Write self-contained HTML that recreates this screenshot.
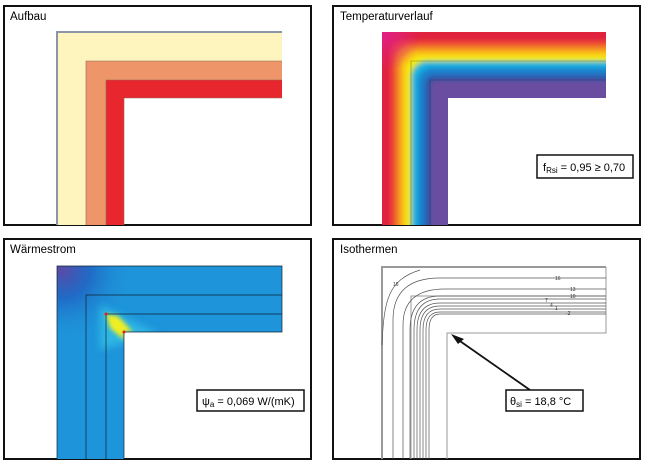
<!DOCTYPE html>
<html><head><style>
html,body{margin:0;padding:0;background:#fff;}
svg{display:block;}
text{font-family:"Liberation Sans",sans-serif;}
</style></head><body>
<svg width="646" height="467" viewBox="0 0 646 467" xmlns="http://www.w3.org/2000/svg">
<defs>
<clipPath id="c2"><path d="M382,32H606V98H448V225H382Z"/></clipPath>
<clipPath id="c3"><path d="M57,266H282V332H124V459H57Z"/></clipPath>
<filter id="bl" x="-10%" y="-10%" width="120%" height="120%"><feGaussianBlur stdDeviation="2"/></filter>
<filter id="bl2" x="-50%" y="-50%" width="200%" height="200%"><feGaussianBlur stdDeviation="4"/></filter>
<radialGradient id="mag" cx="382" cy="32" r="40" gradientUnits="userSpaceOnUse">
<stop offset="0" stop-color="#e0208a"/><stop offset="1" stop-color="#e0208a" stop-opacity="0"/></radialGradient>
<radialGradient id="dk" cx="62" cy="270" r="70" gradientUnits="userSpaceOnUse">
<stop offset="0" stop-color="#5a4aa8"/><stop offset="0.4" stop-color="#2060c0" stop-opacity="0.8"/><stop offset="1" stop-color="#1e90d8" stop-opacity="0"/></radialGradient>
</defs>

<!-- Panel 1 -->
<rect x="4" y="6" width="307" height="219" fill="#fff" stroke="#111" stroke-width="2"/>
<text x="10" y="20" font-size="11.5">Aufbau</text>
<path d="M57,32H282V61H86V225H57Z" fill="#fdf5bd"/>
<path d="M86,61H282V80H106V225H86Z" fill="#ee956a"/>
<path d="M106,80H282V98H124V225H106Z" fill="#e8262e"/>
<path d="M57,225V32H282" fill="none" stroke="#8a96a8" stroke-width="2"/>
<path d="M86,225V61H282M106,225V80H282M124,225V98H282" fill="none" stroke="#8a6a5a" stroke-width="0.6"/>

<!-- Panel 2 -->
<rect x="333" y="6" width="307" height="219" fill="#fff" stroke="#111" stroke-width="2"/>
<text x="340" y="20" font-size="11.5">Temperaturverlauf</text>
<g clip-path="url(#c2)">
<g filter="url(#bl)">
<rect x="372" y="22" width="320" height="320" fill="#e0243c"/>
<rect x="391" y="41" width="300" height="300" rx="10" fill="#ee4a30"/>
<rect x="396" y="46" width="300" height="300" rx="12" fill="#f48a22"/>
<rect x="401" y="51" width="300" height="300" rx="14" fill="#f9c418"/>
<rect x="406" y="56" width="300" height="300" rx="16" fill="#f6ee10"/>
<rect x="410" y="60" width="300" height="300" rx="16" fill="#a8d848"/>
<rect x="412" y="62" width="300" height="300" rx="16" fill="#14b0e0"/>
<rect x="418" y="68" width="300" height="300" rx="14" fill="#1a80cc"/>
<rect x="425" y="75" width="300" height="300" rx="10" fill="#2f55a8"/>
<rect x="431" y="81" width="300" height="300" rx="4" fill="#6a4ea0"/>
</g>
<rect x="382" y="32" width="60" height="60" fill="url(#mag)"/>
</g>
<path d="M411,225V61H606M430,225V80H606" fill="none" stroke="#222" stroke-width="0.6" opacity="0.5"/>
<rect x="537" y="155" width="96" height="23" fill="#fff" stroke="#111" stroke-width="1.5"/>
<text x="543" y="171" font-size="11">f<tspan font-size="8" dy="2">Rsi</tspan><tspan dy="-2"> = 0,95 ≥ 0,70</tspan></text>

<!-- Panel 3 -->
<rect x="4" y="239" width="307" height="220" fill="#fff" stroke="#111" stroke-width="2"/>
<text x="10" y="253" font-size="11.5">Wärmestrom</text>
<g clip-path="url(#c3)">
<rect x="57" y="266" width="230" height="200" fill="#1e94da"/>
<rect x="57" y="266" width="120" height="200" fill="url(#dk)"/>
<path d="M100,305L160,335L135,340L100,350Z" fill="#30c0e8" filter="url(#bl2)" opacity="0.8"/>
<path d="M106,314L118,316L133,332L124,332L124,340L110,328Z" fill="#f0ee20" filter="url(#bl)"/>
</g>
<path d="M57,459V266H282V332H124V459M86,459V295H282M106,459V314H282" fill="none" stroke="#123" stroke-width="0.7"/>
<circle cx="106" cy="314" r="1.5" fill="#e02020"/><circle cx="124" cy="332" r="1.5" fill="#e02020"/>
<rect x="197" y="390" width="107" height="21" fill="#fff" stroke="#111" stroke-width="1.5"/>
<text x="202" y="405" font-size="11">ψ<tspan font-size="8" dy="2">a</tspan><tspan dy="-2"> = 0,069 W/(mK)</tspan></text>

<!-- Panel 4 -->
<rect x="333" y="239" width="307" height="220" fill="#fff" stroke="#111" stroke-width="2"/>
<text x="340" y="253" font-size="11.5">Isothermen</text>
<path d="M382,459V267H606" fill="none" stroke="#999" stroke-width="2"/>
<path d="M411,459V296H606M606,267V333H447V459" fill="none" stroke="#999" stroke-width="1"/>
<g fill="none" stroke="#555" stroke-width="0.7">
<path d="M382,345C384,300 388,280 420,270"/>
<path d="M393,459V320Q393,278 440,278H606"/>
<path d="M403,459V325Q403,289 445,289H606"/>
<path d="M410,459V330Q410,296 440,296H606"/>
<path d="M414,459V330Q414,299 440,299H606"/>
<path d="M417,459V330Q417,303 440,303H606"/>
<path d="M420,459V330Q420,306 440,306H606"/>
<path d="M423,459V330Q423,309 440,309H606"/>
<path d="M426,459V330Q426,312 440,312H606"/>
<path d="M429,459V330Q429,314 440,314H606"/>
</g>
<g font-size="5" fill="#333"><text x="393" y="286">16</text><text x="555" y="280">16</text><text x="570" y="291">13</text><text x="570" y="298">10</text><text x="545" y="302">7</text><text x="550" y="307">4</text><text x="555" y="310">1</text><text x="566" y="315">-2</text></g>
<line x1="530" y1="390" x2="457" y2="339" stroke="#111" stroke-width="1.8"/>
<path d="M451,334L464,339L458,344Z" fill="#111"/>
<rect x="506" y="390" width="77" height="21" fill="#fff" stroke="#111" stroke-width="1.5"/>
<text x="510" y="405" font-size="11">θ<tspan font-size="8" dy="2">si</tspan><tspan dy="-2"> = 18,8 °C</tspan></text>
</svg>
</body></html>
